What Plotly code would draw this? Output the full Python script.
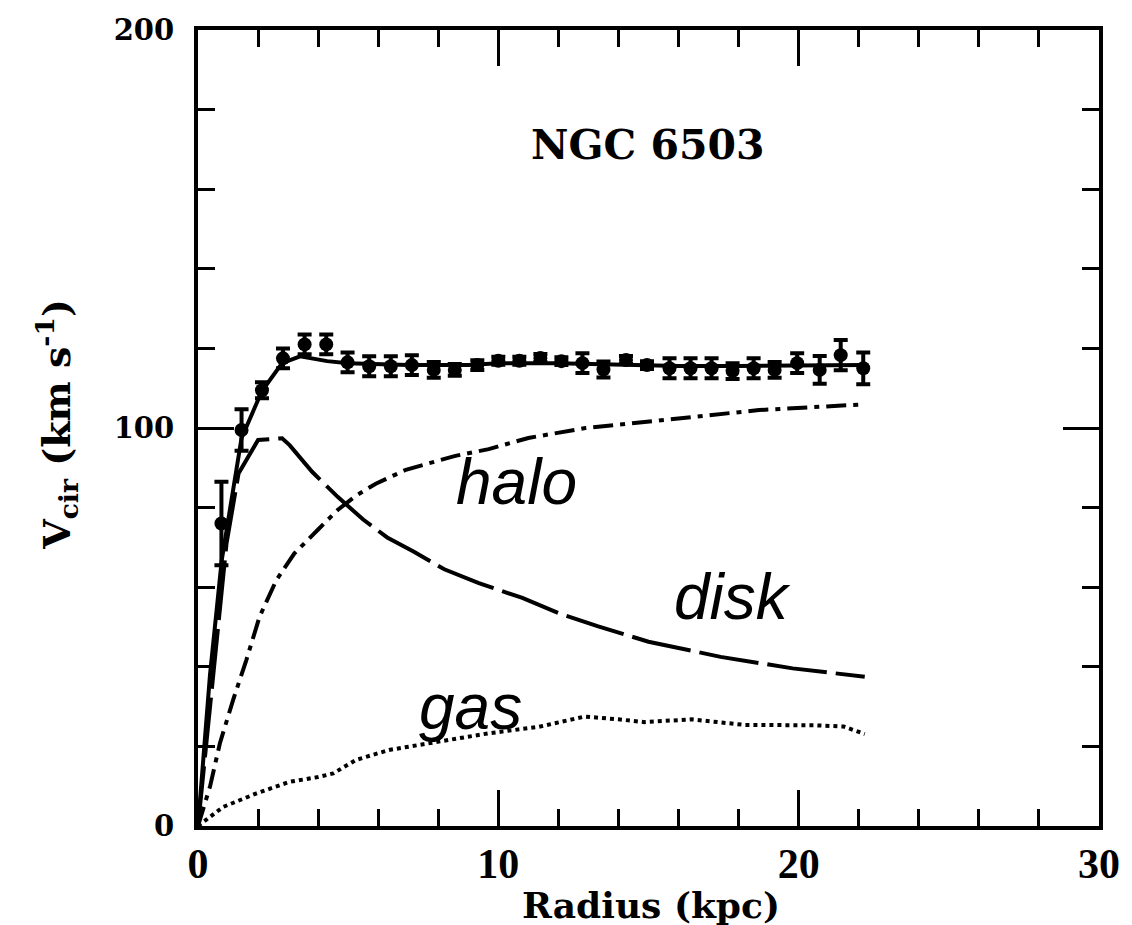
import plotly.graph_objects as go

# Observed rotation curve of NGC 6503
radius_obs = [0.78, 1.45, 2.13, 2.83, 3.55, 4.27, 4.98, 5.70, 6.42, 7.12,
              7.85, 8.55, 9.30, 10.0, 10.7, 11.4, 12.1, 12.8, 13.5, 14.25,
              14.95, 15.7, 16.4, 17.1, 17.8, 18.5, 19.2, 19.95, 20.7, 21.4, 22.15]
vcir_obs = [76.0, 99.5, 109.5, 117.5, 121.0, 121.0, 116.5, 115.5, 115.5, 115.8,
            114.6, 114.6, 115.8, 116.9, 116.9, 117.6, 116.8, 116.3, 114.7, 117.1,
            115.8, 115.0, 115.0, 115.0, 114.3, 115.0, 114.6, 116.3, 114.6, 118.3, 115.0]
vcir_err = [10.5, 5.2, 2.0, 2.5, 2.5, 2.5, 2.5, 2.5, 2.5, 2.5,
            2.0, 1.5, 1.2, 1.0, 1.0, 1.0, 1.0, 2.5, 2.0, 1.0,
            1.0, 2.5, 2.5, 2.5, 2.0, 2.5, 2.0, 2.5, 3.5, 3.8, 4.0]

# Total model fit
radius_fit = [0, 0.4, 0.79, 1.45, 2.13, 2.8, 3.4, 4.3, 5.0, 7.0, 9.0, 10.0,
              12.0, 14.0, 16.0, 18.0, 20.0, 22.15]
vcir_fit = [0, 38, 66.8, 97.5, 109.3, 116.3, 118.0, 116.8, 116.3, 115.8, 115.8, 116.3,
            116.3, 116.0, 115.6, 115.6, 115.8, 115.8]

# Stellar disk component
radius_disk = [0, 0.5, 0.95, 1.35, 2.0, 2.8, 3.05, 3.8, 4.65, 5.5, 6.3, 7.19,
               8.2, 9.35, 10.8, 12.0, 13.3, 15.0, 17.4, 19.8, 22.2]
vcir_disk = [0, 38, 71, 88.6, 97, 97.4, 95.7, 89, 82.7, 77, 72.5, 68.9,
             64.5, 61, 57.3, 53.5, 50.2, 46.3, 42.5, 39.6, 37.5]

# Dark halo component
radius_halo = [0, 0.4, 0.73, 1.17, 1.61, 2.05, 2.61, 3.21, 4.0, 4.65, 5.26, 5.92,
               6.92, 8.57, 9.68, 11.0, 12.9, 15.76, 18.68, 22.1]
vcir_halo = [0, 9.9, 20.8, 31.7, 41.7, 52.6, 61.8, 68.5, 74.5, 79.4, 83.0, 86.0,
             89.5, 93.0, 94.7, 97.5, 100.0, 102.3, 104.5, 105.9]

# Gas component
radius_gas = [0, 0.84, 1.95, 3.05, 4.0, 4.5, 5.26, 6.36, 8.02, 9.68, 11.34, 12.2,
              12.88, 14.0, 14.87, 16.42, 18.19, 20.5, 21.5, 22.2]
vcir_gas = [0, 4.8, 8.2, 11.1, 12.3, 13.2, 16.6, 19.1, 21.2, 23.3, 24.9, 26.3,
            27.5, 26.8, 26.1, 26.8, 25.4, 25.3, 25.0, 23.1]

# Curve labels: (text, radius, velocity)
curve_labels = [("halo", 10.6, 86.5), ("disk", 17.8, 57.5), ("gas", 9.07, 30.0)]
galaxy_name = "NGC 6503"

x_ticks = [0, 10, 20, 30]
y_ticks = [0, 100, 200]

fig = go.Figure()

fig.add_trace(go.Scatter(x=radius_gas, y=vcir_gas, mode="lines",
                         line=dict(color="black", width=4, dash="4px,4px")))
fig.add_trace(go.Scatter(x=radius_halo, y=vcir_halo, mode="lines",
                         line=dict(color="black", width=4, dash="20px,7px,5px,7px")))
fig.add_trace(go.Scatter(x=radius_disk, y=vcir_disk, mode="lines",
                         line=dict(color="black", width=4, dash="60px,9px")))
fig.add_trace(go.Scatter(x=radius_fit, y=vcir_fit, mode="lines",
                         line=dict(color="black", width=4)))
fig.add_trace(go.Scatter(
    x=radius_obs, y=vcir_obs, mode="markers",
    marker=dict(color="black", size=14),
    error_y=dict(type="data", array=vcir_err, color="black", thickness=4, width=7),
))

label_font = dict(family="Liberation Sans", size=64, color="black", style="italic")
for text, r, v in curve_labels:
    fig.add_annotation(x=r, y=v, text=text, showarrow=False,
                       xanchor="center", yanchor="middle", font=label_font)

fig.add_annotation(x=14.98, y=171, text=galaxy_name, showarrow=False,
                   xanchor="center", yanchor="middle",
                   font=dict(family="DejaVu Serif", size=41, color="black", weight="bold"))

# Axis titles
fig.add_annotation(xref="paper", yref="paper", x=0.503, y=0, yshift=-56,
                   xanchor="center", yanchor="top", showarrow=False,
                   text="Radius (kpc)",
                   font=dict(family="DejaVu Serif", size=36, color="black", weight="bold"))
fig.add_annotation(xref="paper", yref="paper", x=0, y=0.504, xshift=-141,
                   xanchor="center", yanchor="middle", showarrow=False, textangle=-90,
                   text="V<sub>cir</sub> (km s<sup>-1</sup>)",
                   font=dict(family="DejaVu Serif", size=38, color="black", weight="bold"))

axis_common = dict(
    showgrid=False, zeroline=False,
    showline=True, linecolor="black", linewidth=4, mirror="allticks",
    ticks="inside", tickcolor="black", tickwidth=3, ticklen=36,
)

fig.update_xaxes(
    range=[0, 30], tickvals=x_ticks, ticktext=[str(t) for t in x_ticks],
    minor=dict(dtick=2, ticks="inside", ticklen=17, tickwidth=3, tickcolor="black"),
    tickfont=dict(family="Liberation Serif", size=42, color="black", weight="bold"),
    ticklabelstandoff=-2,
    **axis_common,
)
fig.update_yaxes(
    range=[0, 200], tickvals=y_ticks, ticktext=[str(t) for t in y_ticks],
    minor=dict(dtick=20, ticks="inside", ticklen=17, tickwidth=3, tickcolor="black"),
    tickfont=dict(family="DejaVu Serif", size=29, color="black", weight="bold"),
    ticklabelstandoff=14,
    **axis_common,
)

fig.update_layout(
    width=1132, height=925,
    margin=dict(l=198, r=29, t=30, b=99),
    paper_bgcolor="white", plot_bgcolor="white",
    showlegend=False,
)

fig.write_html("out.html")
